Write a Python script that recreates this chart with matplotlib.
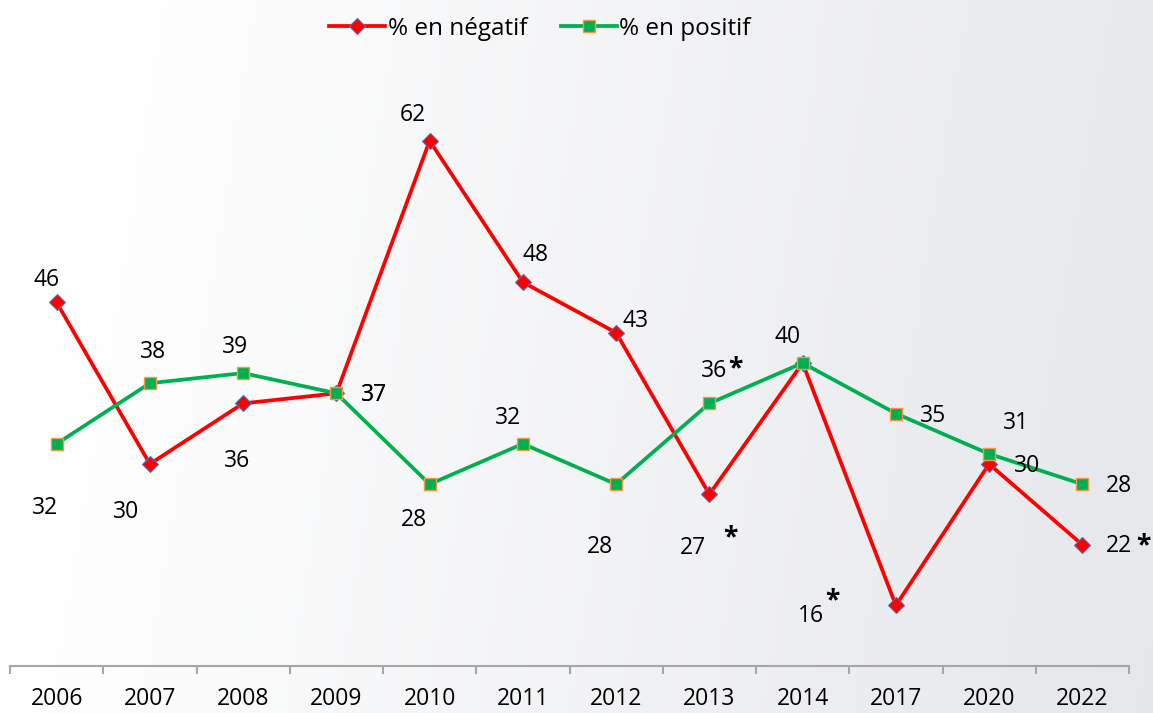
import numpy as np
import matplotlib.pyplot as plt

#---------------------- DATA
years = ['2006', '2007', '2008', '2009', '2010', '2011', '2012', '2013', '2014', '2017', '2020', '2022']
neg   = [46, 30, 36, 37, 62, 48, 43, 27, 40, 16, 30, 22]
pos   = [32, 38, 39, 37, 28, 32, 28, 36, 40, 35, 31, 28]

# label text per point ('' = no label)
neg_lab = ['46', '30', '36', '37', '62', '48', '43', '27', '', '16', '30', '22']
pos_lab = ['32', '38', '39', '37', '28', '32', '28', '36', '40', '35', '31', '28']

#---------------------- label placement (pixel offsets from marker)
neg_off = [(-10, 22), (-24, -48), (-6, -58), (38, -2), (-17, 26), (13, 27), (19, 12),
           (-16, -54), (0, 0), (-85, -11), (38, -2), (37, -1)]
pos_off = [(-12, -64), (3, 31), (-8, 26), (38, -2), (-16, -36), (-15, 26), (-16, -63),
           (5, 32), (-15, 26), (37, -2), (27, 31), (37, -2)]
# asterisks: (series, index, dx, dy)
stars = [('pos', 7, 26, 35), ('neg', 7, 21, -44), ('neg', 9, -64, 5), ('neg', 11, 61, -1)]

plt.rcParams['font.family'] = ['Open Sans', 'DejaVu Sans']

fig = plt.figure(figsize=(11.53, 7.13), dpi=100)

##------ background gradient
bg = fig.add_axes([0, 0, 1, 1], zorder=-10)
gx, gy = np.meshgrid(np.linspace(0, 1, 300), np.linspace(0, 1, 200))
t = np.clip(1.0 * gx + 0.1 * gy - 0.1, 0, 1)
c0 = np.array([1.0, 1.0, 1.0]); c1 = np.array([0.9, 0.905, 0.92])
img = c0[None, None, :] * (1 - t[..., None]) + c1[None, None, :] * t[..., None]
bg.imshow(img, aspect='auto', origin='upper', extent=[0, 1, 0, 1])
bg.axis('off')

##------ main axes
W, H = 1153., 713.
ax = fig.add_axes([10 / W, (H - 666) / H, (1129 - 10) / W, (666 - 60) / H])
ax.patch.set_alpha(0)
x = np.arange(len(years))

ax.plot(x, neg, color='#ff0000', lw=2.7, marker='D', ms=8, mfc='#ff0000',
        mec='#4472c4', mew=0.8, label='% en négatif', zorder=3)
ax.plot(x, pos, color='#00b050', lw=2.7, marker='s', ms=9, mfc='#00b050',
        mec='#f79646', mew=1.0, label='% en positif', zorder=4)

ax.set_xlim(-0.5, len(years) - 0.5)
ax.set_ylim(10, 70)

for i in range(len(years)):
    if neg_lab[i]:
        ax.annotate(neg_lab[i], (x[i], neg[i]), xytext=neg_off[i], textcoords='offset pixels',
                    ha='center', va='center', fontsize=16.5, zorder=5)
    if pos_lab[i]:
        ax.annotate(pos_lab[i], (x[i], pos[i]), xytext=pos_off[i], textcoords='offset pixels',
                    ha='center', va='center', fontsize=16.5, zorder=5)
for s, i, dx, dy in stars:
    v = pos[i] if s == 'pos' else neg[i]
    ax.annotate('*', (x[i], v), xytext=(dx, dy), textcoords='offset pixels',
                ha='center', va='center', fontsize=19, fontweight='bold', zorder=5)

##-----------for beauty
for sp in ['top', 'left', 'right']:
    ax.spines[sp].set_visible(False)
ax.spines['bottom'].set_color('#a6a6a6')
ax.spines['bottom'].set_linewidth(1.5)
ax.set_yticks([])
ax.set_xticks(x)
ax.set_xticklabels(years, fontsize=16.5)
ax.set_xticks(np.arange(-0.5, len(years), 1), minor=True)
ax.tick_params(axis='x', which='major', length=0, pad=15)
ax.tick_params(axis='x', which='minor', length=6, width=1.5, color='#a6a6a6', direction='out')

fig.legend(loc='center', bbox_to_anchor=(540 / W, (H - 29) / H), ncol=2, frameon=False,
           fontsize=17.5, handlelength=2.3, handletextpad=0.1, columnspacing=1.4)

plt.savefig('out.png', dpi=100)
